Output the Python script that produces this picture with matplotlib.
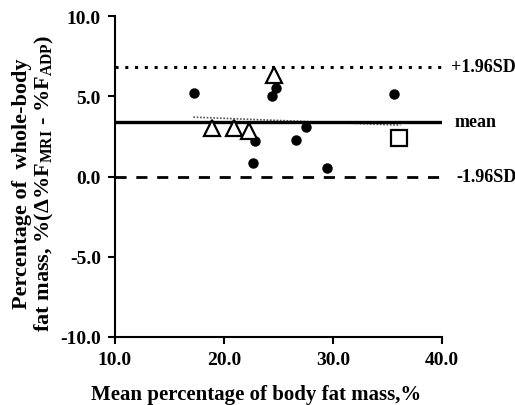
import matplotlib
matplotlib.use("Agg")
import matplotlib.pyplot as plt

plt.rcParams['font.family'] = ['Liberation Serif', 'DejaVu Serif']
plt.rcParams['font.weight'] = 'bold'
plt.rcParams['mathtext.fontset'] = 'custom'
plt.rcParams['mathtext.rm'] = 'Liberation Serif:bold'
plt.rcParams['mathtext.it'] = 'Liberation Serif:bold'
plt.rcParams['mathtext.bf'] = 'Liberation Serif:bold'

circle_x = [17.3, 24.4, 24.8, 35.6, 27.5, 22.9, 26.6, 22.7, 29.5]
circle_y = [5.2, 5.0, 5.5, 5.15, 3.1, 2.2, 2.3, 0.85, 0.56]
tri_x = [24.6, 18.9, 20.9, 22.3]
tri_y = [6.3, 3.0, 3.0, 2.85]
sq_x = [36.1]
sq_y = [2.37]
mean_val = 3.4
upper = 6.85
lower = 0.0
reg_x = [17.2, 36.2]
reg_y = [3.7, 3.2]
x_ticks = [10, 20, 30, 40]
y_ticks = [-10, -5, 0, 5, 10]

fig = plt.figure(figsize=(5.15, 4.06), dpi=100)
ax = fig.add_axes([0.223, 0.1675, 0.635, 0.7905])

ax.plot([10, 40], [upper, upper], color='black', linestyle=(0, (1, 2.2)), linewidth=2.2, zorder=2)
ax.plot([10, 40], [mean_val, mean_val], color='black', linestyle='-', linewidth=2.4, zorder=2)
ax.plot([10, 40], [lower, lower], color='black', linestyle=(0, (4, 3.5)), linewidth=2.0, zorder=2)
ax.plot(reg_x, reg_y, color='#555555', linestyle=(0, (1, 1)), linewidth=1.2, zorder=1)

ax.plot(circle_x, circle_y, 'o', color='black', markersize=6.5, zorder=3)
ax.plot(tri_x, tri_y, '^', markerfacecolor='white', markeredgecolor='black', markeredgewidth=1.6, markersize=11, zorder=4)
ax.plot(sq_x, sq_y, 's', markerfacecolor='white', markeredgecolor='black', markeredgewidth=1.6, markersize=11.5, zorder=4)

for val, txt, dx in [(upper, '+1.96SD', 0.028), (mean_val, 'mean', 0.04), (lower, '-1.96SD', 0.043)]:
    ax.text(1 + dx, (val + 10) / 20, txt, transform=ax.transAxes, fontsize=13,
            fontweight='bold', va='center', ha='left')

ax.set_xlim(10, 40)
ax.set_ylim(-10, 10)
ax.set_xticks(x_ticks)
ax.set_yticks(y_ticks)
ax.set_xticklabels([f'{v:.1f}' for v in x_ticks], fontsize=14, fontweight='bold')
ax.set_yticklabels([f'{v:.1f}' for v in y_ticks], fontsize=14, fontweight='bold')
ax.tick_params(direction='out', length=5, width=1.5, pad=5)
for s in ['top', 'right']:
    ax.spines[s].set_visible(False)
for s in ['left', 'bottom']:
    ax.spines[s].set_linewidth(1.5)

fig.text(0.497, 0.027, 'Mean percentage of body fat mass,%', fontsize=15,
         fontweight='bold', ha='center', va='center')
fig.text(0.066, 0.548,
         'Percentage of  whole-body\nfat mass, %(Δ%F$_{\\mathrm{MRI}}$ - %F$_{\\mathrm{ADP}}$)',
         fontsize=16, fontweight='bold', rotation=90, ha='center', va='center',
         linespacing=1.1, multialignment='center')

fig.savefig('out.png', dpi=100)
